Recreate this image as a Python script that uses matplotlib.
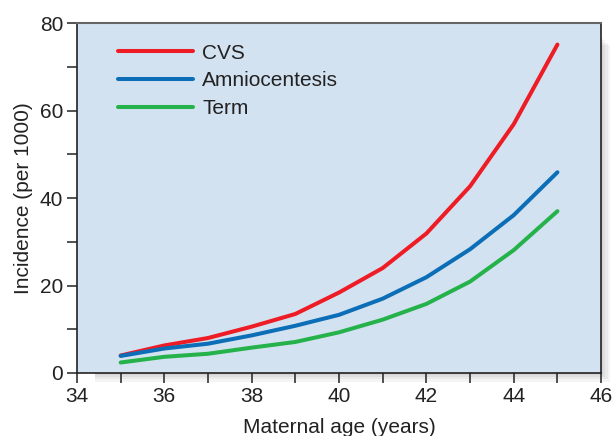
import matplotlib
matplotlib.use("Agg")
import matplotlib.pyplot as plt
from matplotlib.patches import Rectangle
from matplotlib.ticker import MultipleLocator

plt.rcParams['font.family'] = ['Liberation Sans', 'DejaVu Sans']

# maternal age vs incidence (per 1000)
age = [35, 36, 37, 38, 39, 40, 41, 42, 43, 44, 45]
cvs = [4.0, 6.3, 8.0, 10.6, 13.5, 18.4, 24.0, 31.9, 42.7, 56.9, 75.1]
amnio = [3.9, 5.6, 6.7, 8.6, 10.8, 13.3, 17.0, 21.9, 28.3, 36.1, 45.9]
term = [2.4, 3.7, 4.4, 5.8, 7.1, 9.3, 12.2, 15.8, 20.9, 28.1, 37.0]

series_names = ['CVS', 'Amniocentesis', 'Term']
series_colors = ['#ee1c25', '#0b6eb6', '#25b24b']

fs = 15

fig = plt.figure(figsize=(6.13, 4.36), dpi=100)
ax = fig.add_axes([0.1256, 0.1445, 0.855, 0.8025])

# soft drop shadow along right and bottom of the plot box
pos = ax.get_position()
for i in range(4):
    off = 0.0035 * (i + 1)
    fig.patches.append(Rectangle((pos.x0 + 0.03, pos.y0 - off * 1.4),
                                 pos.width - 0.03 + off, pos.height - 0.03,
                                 transform=fig.transFigure, color='k',
                                 alpha=0.045, zorder=-1, lw=0))

ax.set_facecolor('#d3e2f1')
for y, name, col in zip([cvs, amnio, term], series_names, series_colors):
    ax.plot(age, y, color=col, lw=2.9, label=name, solid_capstyle='round')

ax.set_xlim(34, 46)
ax.set_ylim(0, 80)
ax.xaxis.set_major_locator(MultipleLocator(2))
ax.xaxis.set_minor_locator(MultipleLocator(1))
ax.yaxis.set_major_locator(MultipleLocator(20))
ax.yaxis.set_minor_locator(MultipleLocator(10))
ax.tick_params(which='both', direction='out', length=7, width=1.1,
               labelsize=fs, color='#222222', labelcolor='#222222')
ax.tick_params(axis='x', pad=3)
ax.tick_params(axis='y', pad=3)

for s in ['left', 'bottom', 'right']:
    ax.spines[s].set_color('#222222')
    ax.spines[s].set_linewidth(1.2)
ax.spines['top'].set_color('#666666')
ax.spines['top'].set_linewidth(1.5)

ax.set_xlabel('Maternal age (years)', fontsize=fs, color='#222222', labelpad=9)
ax.set_ylabel('Incidence (per 1000)', fontsize=fs, color='#222222', labelpad=5)

ax.legend(loc='upper left', bbox_to_anchor=(0.042, 0.995), frameon=False,
          fontsize=fs, handlelength=3.6, handletextpad=0.45,
          labelspacing=0.42, labelcolor='#222222')

fig.savefig('out.png', dpi=100)
